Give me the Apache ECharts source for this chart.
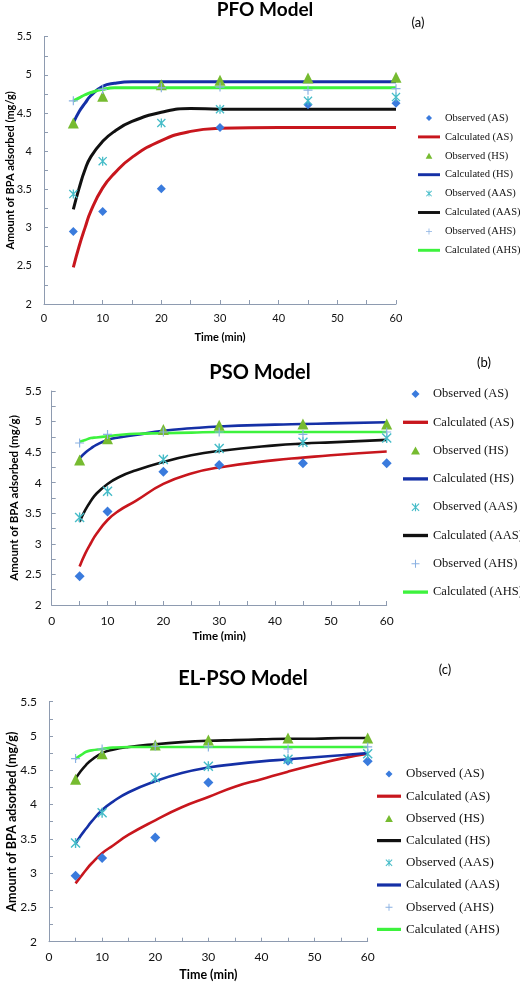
<!DOCTYPE html>
<html><head><meta charset="utf-8">
<script src="https://cdn.jsdelivr.net/npm/echarts@6/dist/echarts.min.js"></script>
<style>html,body{margin:0;padding:0;background:#fff}#c{width:520px;height:983px}</style>
</head><body><div id="c"></div>
<script>
// ---------- data ----------
const timeObs = [5, 10, 20, 30, 45, 60];
const legendNames = ['Observed (AS)', 'Calculated (AS)', 'Observed (HS)', 'Calculated (HS)',
  'Observed (AAS)', 'Calculated (AAS)', 'Observed (AHS)', 'Calculated (AHS)'];
const panelTitles = ['PFO Model', 'PSO Model', 'EL-PSO Model'];
const panelTags = ['(a)', '(b)', '(c)'];
const xTickLabels = [0, 10, 20, 30, 40, 50, 60];
const yTickLabels = [2, 2.5, 3, 3.5, 4, 4.5, 5, 5.5];

// Panel (a) PFO
const aObsAS  = [2.95, 3.21, 3.51, 4.31, 4.61, 4.63];
const aObsHS  = [4.37, 4.72, 4.87, 4.93, 4.96, 4.97];
const aObsAAS = [3.44, 3.87, 4.37, 4.55, 4.66, 4.71];
const aObsAHS = [4.66, 4.81, 4.83, 4.84, 4.80, 4.82];
const aCalcT   = [5, 6, 7, 8, 10, 12, 15, 20, 25, 30, 40, 50, 60];
const aCalcAS  = [2.48, 2.76, 3.00, 3.22, 3.52, 3.71, 3.92, 4.14, 4.26, 4.30, 4.31, 4.31, 4.31];
const aCalcHS  = [4.37, 4.52, 4.63, 4.73, 4.85, 4.89, 4.91, 4.91, 4.91, 4.91, 4.91, 4.91, 4.91];
const aCalcAAS = [3.24, 3.52, 3.76, 3.93, 4.13, 4.26, 4.39, 4.51, 4.56, 4.55, 4.55, 4.55, 4.55];
const aCalcAHS = [4.66, 4.70, 4.74, 4.77, 4.81, 4.83, 4.83, 4.83, 4.83, 4.83, 4.83, 4.83, 4.83];

// Panel (b) PSO
const bObsAS  = [2.47, 3.53, 4.18, 4.29, 4.32, 4.32];
const bObsHS  = [4.37, 4.72, 4.87, 4.94, 4.96, 4.96];
const bObsAAS = [3.43, 3.86, 4.38, 4.56, 4.66, 4.73];
const bObsAHS = [4.65, 4.79, 4.83, 4.83, 4.79, 4.83];
const bCalcT   = [5, 6, 7, 8, 10, 12, 15, 20, 25, 30, 40, 45, 50, 60];
const bCalcAS  = [2.63, 2.84, 3.01, 3.16, 3.39, 3.54, 3.70, 3.98, 4.15, 4.25, 4.37, 4.41, 4.45, 4.51];
const bCalcHS  = [4.40, 4.49, 4.56, 4.62, 4.70, 4.74, 4.78, 4.85, 4.89, 4.92, 4.95, 4.96, 4.97, 4.99];
const bCalcAAS = [3.36, 3.55, 3.70, 3.82, 3.98, 4.09, 4.20, 4.34, 4.45, 4.52, 4.61, 4.64, 4.66, 4.70];
const bCalcAHS = [4.67, 4.70, 4.73, 4.74, 4.76, 4.78, 4.80, 4.81, 4.82, 4.83, 4.83, 4.83, 4.83, 4.83];

// Panel (c) EL-PSO
const cObsAS  = [2.96, 3.22, 3.52, 4.32, 4.64, 4.63];
const cObsHS  = [4.37, 4.74, 4.87, 4.94, 4.97, 4.97];
const cObsAAS = [3.44, 3.88, 4.39, 4.56, 4.66, 4.74];
const cObsAHS = [4.67, 4.81, 4.85, 4.84, 4.81, 4.84];
const cCalcT   = [5, 6, 7, 8, 10, 12, 15, 20, 25, 30, 35, 40, 45, 50, 55, 60];
const cCalcAS  = [2.85, 2.95, 3.05, 3.14, 3.29, 3.40, 3.56, 3.77, 3.96, 4.11, 4.26, 4.37, 4.48, 4.58, 4.67, 4.74];
const cCalcHS  = [4.38, 4.49, 4.58, 4.65, 4.75, 4.80, 4.84, 4.88, 4.91, 4.93, 4.94, 4.95, 4.96, 4.96, 4.97, 4.97];
const cCalcAAS = [3.43, 3.55, 3.65, 3.75, 3.92, 4.04, 4.18, 4.34, 4.46, 4.54, 4.59, 4.63, 4.66, 4.69, 4.72, 4.75];
const cCalcAHS = [4.67, 4.72, 4.77, 4.79, 4.81, 4.83, 4.84, 4.84, 4.84, 4.84, 4.84, 4.84, 4.84, 4.84, 4.84, 4.84];

// ---------- styles ----------
const RED = '#C8161D', BLUE = '#1530A6', BLACK = '#111111', GREEN = '#3DF23D';
const C_DIAM = '#3A7BDD', C_TRI = '#76BB30', C_AST = '#45BCC8', C_PLUS = '#8AB1E2';
const AXIS = '#8E9BB0';
const SYM_DIAM = 'path://M5,0L10,5L5,10L0,5Z';
const SYM_TRI = 'path://M5,0L10,9L0,9Z';
const SYM_PLUS = 'path://M8.7,0H11.3V8.7H20V11.3H11.3V20H8.7V11.3H0V8.7H8.7Z';
const SYM_AST = 'path://M8.6,0H11.4V20H8.6ZM0,2L2,0L20,18L18,20ZM18,0L20,2L2,20L0,18Z';
const LINE_ICON = 'path://M0,0H30V4H0Z';

const panels = [
  { p: 'a', obs: [aObsAS, aObsHS, aObsAAS, aObsAHS], t: aCalcT, calc: [aCalcAS, aCalcHS, aCalcAAS, aCalcAHS],
    lineColors: [RED, BLUE, BLACK, GREEN], lw: 3,
    grid: { left: 44, right: 124, top: 36.7, bottom: 679 },
    tickFont: 11, nameFont: 11, xNameGap: 28, yNameGap: 28, xMargin: 9, yMargin: 12,
    title: { x: 265, y: 0, size: 19 }, tag: { x: 418, y: 16 },
    legend: { left: 418, top: 112, w: 22, h: 6, gap: 6.9, font: 10.5, lh: 12 }, msize: 9 },
  { p: 'b', obs: [bObsAS, bObsHS, bObsAAS, bObsAHS], t: bCalcT, calc: [bCalcAS, bCalcHS, bCalcAAS, bCalcAHS],
    lineColors: [RED, BLUE, BLACK, GREEN], lw: 2.6,
    grid: { left: 51.7, right: 133.3, top: 391, bottom: 378 },
    tickFont: 12, nameFont: 11.5, xNameGap: 25, yNameGap: 31, xMargin: 10, yMargin: 10,
    title: { x: 260, y: 363, size: 20 }, tag: { x: 484, y: 356 },
    legend: { left: 403, top: 387, w: 25, h: 8, gap: 14.3, font: 12.5, lh: 14 }, msize: 9.5 },
  { p: 'c', obs: [cObsAS, cObsHS, cObsAAS, cObsAHS], t: cCalcT, calc: [cCalcAS, cCalcHS, cCalcAAS, cCalcAHS],
    lineColors: [RED, BLACK, BLUE, GREEN], lw: 2.6,
    grid: { left: 49, right: 152.3, top: 701.7, bottom: 41.3 },
    tickFont: 12, nameFont: 12.5, xNameGap: 27, yNameGap: 31, xMargin: 9, yMargin: 12,
    title: { x: 243, y: 669, size: 20 }, tag: { x: 445, y: 663 },
    legend: { left: 377, top: 767, w: 24, h: 7, gap: 8.2, font: 13, lh: 14 }, msize: 9.5 }
];

const obsStyles = [
  { symbol: SYM_DIAM, color: C_DIAM, k: 1.0 },
  { symbol: SYM_TRI, color: C_TRI, k: 1.2 },
  { symbol: SYM_AST, color: C_AST, k: 1.0 },
  { symbol: SYM_PLUS, color: C_PLUS, k: 0.95 }
];

const option = { animation: false, backgroundColor: '#fff', grid: [], xAxis: [], yAxis: [], series: [], legend: [], title: [] };

panels.forEach((P, gi) => {
  option.grid.push(Object.assign({ containLabel: false, outerBoundsMode: 'none' }, P.grid));
  const axisCommon = {
    gridIndex: gi, type: 'value', nameLocation: 'middle', nameMoveOverlap: false,
    nameTextStyle: { fontFamily: 'Lato', fontWeight: 'bold', fontSize: P.nameFont, color: '#000' },
    axisLine: { show: true, lineStyle: { color: AXIS, width: 1 } },
    axisTick: { show: true, inside: true, length: 4, lineStyle: { color: AXIS } },
    minorTick: { show: true, splitNumber: 2, length: 4, lineStyle: { color: AXIS } },
    splitLine: { show: false }, minorSplitLine: { show: false }
  };
  option.xAxis.push(Object.assign({}, axisCommon, {
    min: xTickLabels[0], max: xTickLabels[xTickLabels.length - 1], interval: 10,
    name: 'Time (min)', nameGap: P.xNameGap,
    axisLabel: { fontFamily: 'Lato', fontSize: P.tickFont, color: '#111', margin: P.xMargin }
  }));
  option.yAxis.push(Object.assign({}, axisCommon, {
    min: yTickLabels[0], max: yTickLabels[yTickLabels.length - 1], interval: 0.5,
    name: 'Amount of BPA adsorbed (mg/g)', nameGap: P.yNameGap,
    axisLabel: { fontFamily: 'Lato', fontSize: P.tickFont, color: '#111', margin: P.yMargin }
  }));
  const legendData = [];
  for (let k = 0; k < 4; k++) {
    const obsName = P.p + '|' + legendNames[2 * k];
    const calcName = P.p + '|' + legendNames[2 * k + 1];
    const S = obsStyles[k];
    option.series.push({
      type: 'line', name: calcName, xAxisIndex: gi, yAxisIndex: gi,
      data: P.t.map((t, i) => [t, P.calc[k][i]]),
      smooth: 0.5, symbol: 'none', showSymbol: false,
      lineStyle: { color: P.lineColors[k], width: P.lw }, itemStyle: { color: P.lineColors[k] }, z: 3
    });
    option.series.push({
      type: 'scatter', name: obsName, xAxisIndex: gi, yAxisIndex: gi,
      data: timeObs.map((t, i) => [t, P.obs[k][i]]),
      symbol: S.symbol, symbolSize: Math.round(P.msize * S.k), itemStyle: { color: S.color, opacity: 1 }, z: 5
    });
    legendData.push({ name: obsName });
    legendData.push({ name: calcName, icon: LINE_ICON });
  }
  option.legend.push({
    orient: 'vertical', left: P.legend.left, top: P.legend.top, padding: 0,
    itemWidth: P.legend.w, itemHeight: P.legend.h, itemGap: P.legend.gap, symbolKeepAspect: true,
    selectedMode: false, data: legendData,
    formatter: n => n.split('|')[1],
    textStyle: { fontFamily: 'Liberation Serif', fontSize: P.legend.font, lineHeight: P.legend.lh, color: '#111', padding: [0, 0, 0, 0] }
  });
  option.title.push({
    text: panelTitles[gi], left: P.title.x, top: P.title.y, textAlign: 'center', padding: 0,
    textStyle: { fontFamily: 'Lato', fontWeight: 'bold', fontSize: P.title.size, color: '#000' }
  });
  option.title.push({
    text: panelTags[gi], left: P.tag.x, top: P.tag.y, textAlign: 'center', padding: 0,
    textStyle: { fontFamily: 'Lato', fontWeight: 'normal', fontSize: 13, color: '#000' }
  });
});

const chart = echarts.init(document.getElementById('c'), null, { renderer: 'canvas' });
chart.setOption(option);
</script>
</body></html>
